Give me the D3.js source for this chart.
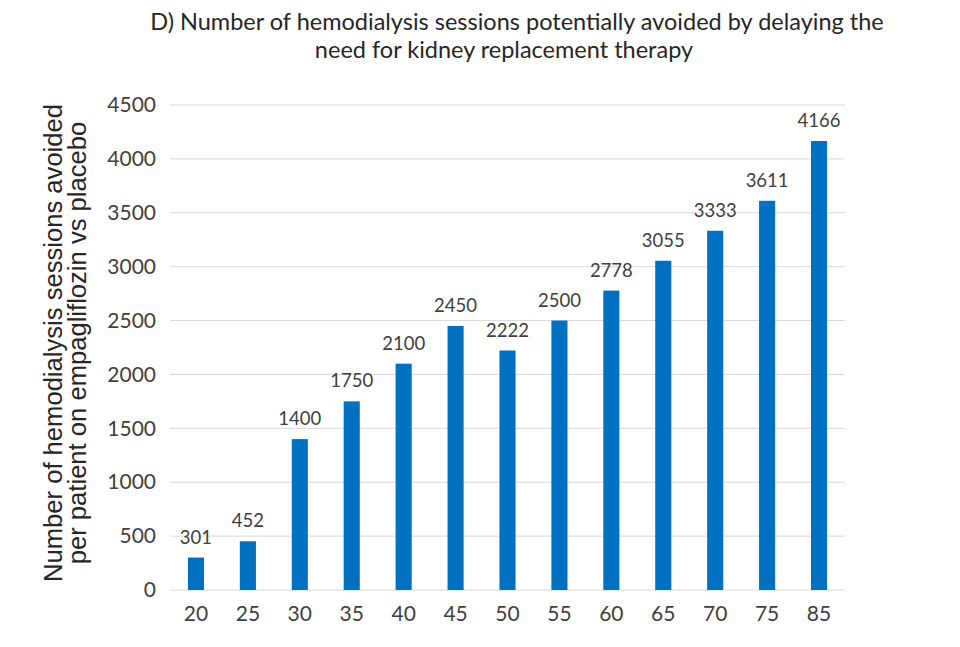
<!DOCTYPE html>
<html><head><meta charset="utf-8">
<script src="https://cdn.jsdelivr.net/npm/d3@7"></script>
<style>body{margin:0;background:#fff}svg{display:block}</style>
</head><body>
<svg id="c" width="960" height="647"></svg>
<script>
const categories = ["20","25","30","35","40","45","50","55","60","65","70","75","85"];
const values = [301,452,1400,1750,2100,2450,2222,2500,2778,3055,3333,3611,4166];
const yTicks = [0,500,1000,1500,2000,2500,3000,3500,4000,4500];
const titleLines = ["D) Number of hemodialysis sessions potentially avoided by delaying the","need for kidney replacement therapy"];
const yTitleLines = ["Number of hemodialysis sessions avoided","per patient on empagliflozin vs placebo"];

const FONT = "Lato, 'Open Sans', sans-serif";
const AFONT = "'Liberation Sans', Arial, sans-serif";
const svg = d3.select("#c");
const m = {l:170, r:845, t:105, b:590};
const x = d3.scaleBand().domain(categories).range([m.l, m.r]).paddingInner(0.69).paddingOuter(0.345);
const y = d3.scaleLinear().domain([0,4500]).range([m.b, m.t]);

// gridlines
svg.append("g").selectAll("line").data(yTicks).join("line")
  .attr("x1", m.l).attr("x2", m.r)
  .attr("y1", d=>y(d)).attr("y2", d=>y(d))
  .attr("stroke", "#d9d9d9").attr("stroke-width", 1);

// y axis labels
const ya = svg.append("g").attr("transform", `translate(${m.l},0)`)
  .call(d3.axisLeft(y).tickValues(yTicks).tickFormat(d3.format("d")).tickSize(0).tickPadding(14));
ya.select(".domain").remove();
ya.selectAll("text").attr("font-family", FONT).attr("font-size", 21).attr("fill", "#404040");

// x axis labels
const xa = svg.append("g").attr("transform", `translate(0,${m.b})`)
  .call(d3.axisBottom(x).tickSize(0).tickPadding(16));
xa.select(".domain").remove();
xa.selectAll("text").attr("font-family", FONT).attr("font-size", 21).attr("fill", "#404040");

// bars
svg.append("g").selectAll("rect").data(values).join("rect")
  .attr("x", (d,i)=>x(categories[i]))
  .attr("width", x.bandwidth())
  .attr("y", d=>y(d))
  .attr("height", d=>y(0)-y(d))
  .attr("fill", "#0070C0");

// data labels
svg.append("g").selectAll("text").data(values).join("text")
  .attr("x", (d,i)=>x(categories[i]) + x.bandwidth()/2)
  .attr("y", d=>y(d) - 14)
  .attr("text-anchor", "middle")
  .attr("font-family", FONT).attr("font-size", 18.5).attr("fill", "#404040")
  .text(d=>d);

// title
svg.append("g").selectAll("text").data(titleLines).join("text")
  .attr("x", (d,i)=> i === 0 ? 517 : 504).attr("y", (d,i)=>30 + i*28)
  .attr("text-anchor", "middle")
  .attr("font-family", FONT).attr("font-size", 23.5).attr("fill", "#262626")
  .text(d=>d);

// y title
svg.append("g").attr("transform", "translate(0,343)").selectAll("text").data(yTitleLines).join("text")
  .attr("transform", (d,i)=>`translate(${62 + i*24},0) rotate(-90)`)
  .attr("text-anchor", "middle")
  .attr("font-family", AFONT).attr("font-size", 25.6).attr("fill", "#262626")
  .text(d=>d);
</script>
</body></html>
